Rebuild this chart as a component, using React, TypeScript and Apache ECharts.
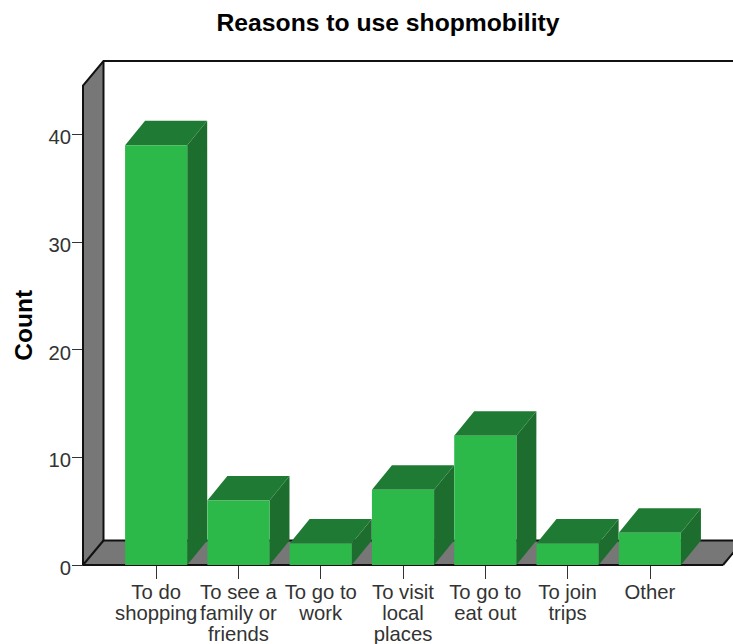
import React, { useEffect, useRef } from "react";
import * as echarts from "echarts";

const categories = [
  "To do\nshopping",
  "To see a\nfamily or\nfriends",
  "To go to\nwork",
  "To visit\nlocal\nplaces",
  "To go to\neat out",
  "To join\ntrips",
  "Other",
];
const counts = [39, 6, 2, 7, 12, 2, 3];
const yTicks = [0, 10, 20, 30, 40];
const yMax = 44.55;

const FONT = "'Liberation Sans', Arial, sans-serif";
const DEPTH_X = 20.5;
const DEPTH_Y = 24.5;
const BAR_DEPTH_X = 20;
const FLOOR_PAD = 32;
const WALL_GREY = "#777777";
const EDGE = "#111111";

// Side wall, floor and frame of the 3D box behind the bars.
function renderBox(_params: any, api: any) {
  const band = api.size([1, 0])[0];
  const left = api.coord([0, 0])[0] - band / 2 - FLOOR_PAD;
  const right = api.coord([categories.length - 1, 0])[0] + band / 2 + FLOOR_PAD;
  const y0 = api.coord([0, 0])[1];
  const yTop = api.coord([0, yMax])[1];
  const backX = left + DEPTH_X;
  const backY = y0 - DEPTH_Y;
  const topY = yTop - DEPTH_Y;
  const edge = { stroke: EDGE, lineWidth: 2, fill: "none" };
  const line = (pts: number[][], style: any = edge) => ({
    type: "polyline",
    shape: { points: pts },
    style,
  });
  return {
    type: "group",
    children: [
      {
        type: "polygon",
        shape: { points: [[left, yTop], [backX, topY], [backX, backY], [left, y0]] },
        style: { fill: WALL_GREY },
      },
      {
        type: "polygon",
        shape: { points: [[left, y0], [backX, backY], [right + DEPTH_X, backY], [right, y0]] },
        style: { fill: WALL_GREY },
      },
      line([[left, y0], [left, yTop], [backX, topY], [right + DEPTH_X + 20, topY]]),
      line([[backX, topY], [backX, backY], [right + DEPTH_X + 20, backY]]),
      line([[left, y0], [backX, backY]]),
      line([[right, y0], [right + DEPTH_X, backY]]),
      line([[left, y0], [right, y0]]),
    ],
  };
}

// One extruded bar: front face, top face and right-hand side face.
function renderBar(_params: any, api: any) {
  const cat = api.value(0);
  const val = api.value(1);
  const [cx, yVal] = api.coord([cat, val]);
  const y0 = api.coord([cat, 0])[1];
  const w = api.size([1, 0])[0] * 0.755;
  const l = cx - w / 2;
  const r = cx + w / 2;
  return {
    type: "group",
    children: [
      {
        type: "polygon",
        shape: {
          points: [[r, yVal], [r + BAR_DEPTH_X, yVal - DEPTH_Y], [r + BAR_DEPTH_X, y0 - DEPTH_Y], [r, y0]],
        },
        style: { fill: "#1d6e2e" },
      },
      {
        type: "polygon",
        shape: {
          points: [[l, yVal], [l + BAR_DEPTH_X, yVal - DEPTH_Y], [r + BAR_DEPTH_X, yVal - DEPTH_Y], [r, yVal]],
        },
        style: { fill: "#1f7a33" },
      },
      {
        type: "rect",
        shape: { x: l, y: yVal, width: w, height: y0 - yVal },
        style: { fill: "#2db84a" },
      },
    ],
  };
}

export default function App() {
  const ref = useRef<HTMLDivElement>(null);
  useEffect(() => {
    const chart = echarts.init(ref.current!, undefined, { renderer: "svg" });
    chart.setOption({
      animation: false,
      backgroundColor: "#ffffff",
      title: {
        text: "Reasons to use shopmobility",
        left: 383,
        top: 5,
        textAlign: "center",
        textStyle: { fontFamily: FONT, fontWeight: "bold", fontSize: 24.7, color: "#000000" },
      },
      grid: { left: 115, top: 85.5, width: 576, height: 480 },
      xAxis: {
        type: "category",
        data: categories,
        axisLine: { show: false },
        axisTick: {
          show: true,
          alignWithLabel: true,
          length: 14,
          lineStyle: { color: "#333333", width: 1 },
        },
        axisLabel: {
          interval: 0,
          margin: 16,
          fontFamily: FONT,
          fontSize: 20.3,
          lineHeight: 21,
          color: "#333333",
        },
      },
      yAxis: {
        type: "value",
        min: 0,
        max: yMax,
        offset: 32,
        name: "Count",
        nameLocation: "middle",
        nameGap: 47,
        nameTextStyle: { fontFamily: FONT, fontWeight: "bold", fontSize: 24.5, color: "#000000" },
        splitLine: { show: false },
        axisLine: { show: false },
        axisTick: {
          show: true,
          length: 11,
          customValues: yTicks,
          lineStyle: { color: "#333333", width: 1 },
        },
        axisLabel: {
          customValues: yTicks,
          margin: 12,
          verticalAlign: "top",
          lineHeight: 6,
          fontFamily: FONT,
          fontSize: 20.3,
          color: "#333333",
        },
      },
      series: [
        {
          type: "custom",
          z: 1,
          silent: true,
          renderItem: renderBox,
          data: [[0, 0]],
        },
        {
          type: "custom",
          z: 2,
          renderItem: renderBar,
          encode: { x: 0, y: 1 },
          data: counts.map((v, i) => [i, v]),
        },
      ],
    });
    return () => chart.dispose();
  }, []);
  return <div ref={ref} style={{ position: "absolute", left: 0, top: 0, width: 733, height: 644 }} />;
}
